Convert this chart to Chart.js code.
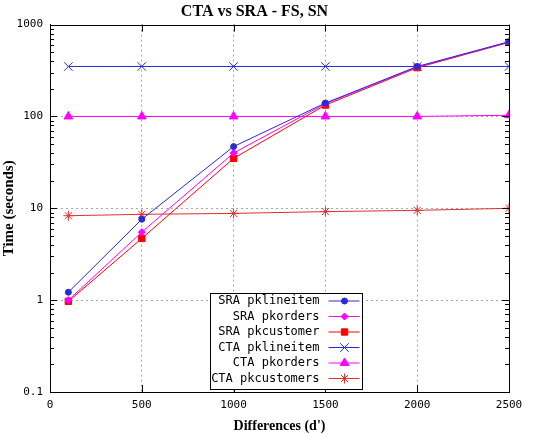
<!DOCTYPE html>
<html>
<head>
<meta charset="utf-8">
<script src="https://cdn.jsdelivr.net/npm/chart.js@4"></script>
<style>
  html, body { margin: 0; padding: 0; background: #fff; }
  #wrap { width: 533px; height: 435px; }
</style>
</head>
<body>
<div id="wrap"><canvas id="chart" width="533" height="435"></canvas></div>
<script>
// values (log scale, seconds)
const diffs = [100, 500, 1000, 1500, 2000, 2500];
const sraLineitem = [1.22, 7.6, 47, 140, 350, 650];
const sraOrders = [1.0, 5.5, 40, 138, 345, 650];
const sraCustomer = [0.97, 4.7, 35, 133, 340, 640];
const ctaLineitem = [350, 350, 350, 350, 350, 350];
const ctaOrders = [100, 100, 100, 100, 100, 103];
const ctaCustomers = [8.3, 8.6, 8.8, 9.2, 9.5, 10];
const yTicks = [0.1, 1, 10, 100, 1000];
const xTicks = [0, 500, 1000, 1500, 2000, 2500];

function pts(vals) {
    return vals.map((v, i) => ({ x: diffs[i], y: v }));
}

function series(label, vals, color, style, radius) {
    return {
        label: label,
        data: pts(vals),
        borderColor: color,
        backgroundColor: color,
        borderWidth: 1,
        pointStyle: style,
        pointRadius: radius,
        pointBorderWidth: 1,
        tension: 0
    };
}

// frame, minor ticks on the log axis (inside, left and right) + boxed legend
const gnuplotBits = {
    id: 'gnuplotBits',
    afterDraw(chart) {
        const { ctx, chartArea: a, scales } = chart;
        const y = scales.y;
        ctx.save();
        ctx.strokeStyle = '#000';
        ctx.lineWidth = 1;
        ctx.strokeRect(Math.round(a.left) + 0.5, Math.round(a.top) + 0.5,
            Math.round(a.right - a.left), Math.round(a.bottom - a.top));
        for (let d = -1; d < 3; d++) {
            for (let m = 1; m <= 10; m++) {
                const v = m * Math.pow(10, d);
                const py = Math.round(y.getPixelForValue(v)) + 0.5;
                const len = (m === 1 || m === 10) ? 7 : 4;
                ctx.beginPath();
                ctx.moveTo(a.left, py); ctx.lineTo(a.left + len, py);
                ctx.moveTo(a.right, py); ctx.lineTo(a.right - len, py);
                ctx.stroke();
            }
        }
        const x = scales.x;
        xTicks.forEach(v => {
            const px = Math.round(x.getPixelForValue(v)) + 0.5;
            ctx.beginPath();
            ctx.moveTo(px, a.bottom); ctx.lineTo(px, a.bottom - 7);
            ctx.moveTo(px, a.top); ctx.lineTo(px, a.top + 7);
            ctx.stroke();
        });

        // legend box
        const bx = 210.5, by = 293.5, bw = 152, bh = 96;
        ctx.fillStyle = '#fff';
        ctx.fillRect(bx, by, bw, bh);
        ctx.strokeRect(bx, by, bw, bh);
        ctx.font = '12px "DejaVu Sans Mono", monospace';
        ctx.textAlign = 'right';
        ctx.textBaseline = 'middle';
        chart.data.datasets.forEach((ds, i) => {
            const ly = by + 7.5 + i * 15.5;
            ctx.fillStyle = '#000';
            ctx.fillText(ds.label, bx + 109, ly);
            ctx.strokeStyle = ds.borderColor;
            ctx.beginPath();
            ctx.moveTo(bx + 118, ly); ctx.lineTo(bx + 149, ly);
            ctx.stroke();
            ctx.fillStyle = ds.backgroundColor;
            Chart.helpers.drawPoint(ctx, {
                pointStyle: ds.pointStyle, radius: ds.pointRadius, borderWidth: 1, rotation: 0
            }, bx + 134, ly);
        });
        ctx.restore();
    }
};

new Chart(document.getElementById('chart'), {
    type: 'line',
    data: {
        datasets: [
            series('SRA pklineitem', sraLineitem, '#2a2ad8', 'circle', 3),
            series('SRA pkorders', sraOrders, '#ff00ff', 'rectRot', 3.5),
            series('SRA pkcustomer', sraCustomer, '#ff0000', 'rect', 4.5),
            series('CTA pklineitem', ctaLineitem, '#2a2ad8', 'crossRot', 6),
            series('CTA pkorders', ctaOrders, '#ff00ff', 'triangle', 5),
            series('CTA pkcustomers', ctaCustomers, '#e03030', 'star', 5)
        ]
    },
    options: {
        responsive: false,
        animation: false,
        layout: { padding: { right: 24, left: 0, bottom: 0 } },
        plugins: {
            legend: { display: false },
            tooltip: { enabled: false },
            title: {
                display: true,
                text: 'CTA vs SRA - FS, SN',
                color: '#000',
                font: { family: '"Liberation Serif", serif', size: 16, weight: 'bold', lineHeight: 1.1 },
                padding: { top: 3, bottom: 4 }
            }
        },
        scales: {
            x: {
                type: 'linear',
                min: 0,
                max: 2500,
                afterBuildTicks(scale) {
                    scale.ticks = xTicks.map(v => ({ value: v }));
                },
                afterFit(scale) { scale.height = 43; },
                border: { color: '#000', width: 1, dash: [2, 3] },
                grid: {
                    color: ctx => (ctx.tick && (ctx.tick.value === 0 || ctx.tick.value === 2500)) ? 'rgba(0,0,0,0)' : '#a8a8a8',
                    drawTicks: false
                },
                ticks: {
                    color: '#000',
                    padding: 7,
                    maxRotation: 0,
                    font: { family: '"DejaVu Sans Mono", monospace', size: 11 },
                    callback: v => String(v)
                },
                title: {
                    display: true,
                    text: "Differences (d')",
                    color: '#000',
                    font: { family: '"Liberation Serif", serif', size: 14, weight: 'bold' },
                    padding: { top: 0, bottom: 0 }
                }
            },
            y: {
                type: 'logarithmic',
                min: 0.1,
                max: 1000,
                afterBuildTicks(scale) {
                    scale.ticks = yTicks.map(v => ({ value: v }));
                },
                afterFit(scale) { scale.width = 50; },
                border: { color: '#000', width: 1, dash: [2, 3] },
                grid: {
                    color: ctx => (ctx.tick && (ctx.tick.value === 0.1 || ctx.tick.value === 1000)) ? 'rgba(0,0,0,0)' : '#a8a8a8',
                    drawTicks: false
                },
                ticks: {
                    color: '#000',
                    padding: 7,
                    font: { family: '"DejaVu Sans Mono", monospace', size: 11 },
                    callback: v => String(v)
                },
                title: {
                    display: true,
                    text: 'Time (seconds)',
                    color: '#000',
                    font: { family: '"Liberation Serif", serif', size: 15, weight: 'bold' },
                    padding: { top: 0, bottom: 0 }
                }
            }
        }
    },
    plugins: [gnuplotBits]
});
</script>
</body>
</html>
